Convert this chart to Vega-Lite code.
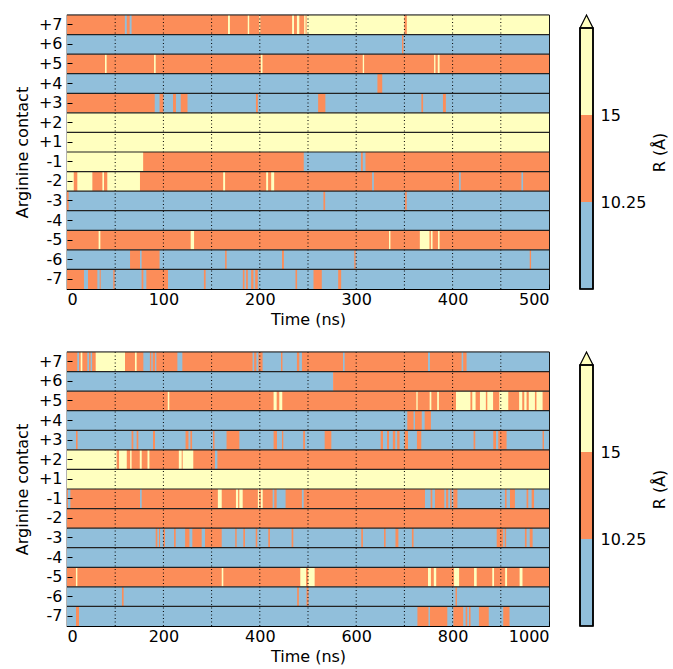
{
  "$schema": "https://vega.github.io/schema/vega-lite/v6.json",
  "padding": {"left": 13, "top": 12, "right": 0, "bottom": 0},
  "background": "white",
  "config": {
    "font": "DejaVu Sans",
    "view": {"stroke": "black", "strokeWidth": 1.2},
    "axis": {"labelFontSize": 16, "titleFontSize": 16, "titleFontWeight": "normal", "labelColor": "black", "titleColor": "black", "tickColor": "black", "domain": false, "grid": false}
  },
  "datasets": {
    "rows": [{"r":"+7"},{"r":"+6"},{"r":"+5"},{"r":"+4"},{"r":"+3"},{"r":"+2"},{"r":"+1"},{"r":"-1"},{"r":"-2"},{"r":"-3"},{"r":"-4"},{"r":"-5"},{"r":"-6"},{"r":"-7"}],
    "gridT": [{"t":50},{"t":100},{"t":150},{"t":200},{"t":250},{"t":300},{"t":350},{"t":400},{"t":450}],
    "gridB": [{"t":100},{"t":200},{"t":300},{"t":400},{"t":500},{"t":600},{"t":700},{"t":800},{"t":900}],
    "cb": [{"lo":5.5,"hi":10.25,"c":"b"},{"lo":10.25,"hi":15,"c":"o"},{"lo":15,"hi":19.75,"c":"y"}],
    "tri": [{"x":0,"y":19.75},{"x":0.5,"y":20.46},{"x":1,"y":19.75}],
    "top": [
      {"r":"+7","s":0,"e":500,"c":"o"},{"r":"+7","s":60,"e":62,"c":"b"},{"r":"+7","s":65,"e":67,"c":"b"},{"r":"+7","s":167,"e":169,"c":"y"},{"r":"+7","s":187.5,"e":189,"c":"y"},{"r":"+7","s":199.5,"e":200.5,"c":"y"},{"r":"+7","s":233.5,"e":235.5,"c":"y"},{"r":"+7","s":238.5,"e":241,"c":"y"},{"r":"+7","s":246,"e":247.5,"c":"y"},{"r":"+7","s":248.5,"e":350,"c":"y"},{"r":"+7","s":352.5,"e":500,"c":"y"},
      {"r":"+6","s":0,"e":500,"c":"b"},{"r":"+6","s":347.5,"e":349,"c":"o"},
      {"r":"+5","s":0,"e":500,"c":"o"},{"r":"+5","s":39.4,"e":41.1,"c":"y"},{"r":"+5","s":90.3,"e":92,"c":"y"},{"r":"+5","s":201,"e":202.8,"c":"y"},{"r":"+5","s":306.8,"e":308.2,"c":"y"},{"r":"+5","s":380.8,"e":382.2,"c":"y"},{"r":"+5","s":384.6,"e":386.5,"c":"y"},
      {"r":"+4","s":0,"e":500,"c":"b"},{"r":"+4","s":322,"e":327,"c":"o"},
      {"r":"+3","s":0,"e":500,"c":"b"},{"r":"+3","s":0,"e":91,"c":"o"},{"r":"+3","s":96,"e":100,"c":"o"},{"r":"+3","s":110,"e":113,"c":"o"},{"r":"+3","s":118,"e":125,"c":"o"},{"r":"+3","s":196,"e":198,"c":"o"},{"r":"+3","s":260.5,"e":268,"c":"o"},{"r":"+3","s":367.6,"e":369.4,"c":"o"},{"r":"+3","s":390,"e":393,"c":"o"},
      {"r":"+2","s":0,"e":500,"c":"y"},
      {"r":"+1","s":0,"e":500,"c":"y"},
      {"r":"-1","s":0,"e":500,"c":"o"},{"r":"-1","s":0,"e":79,"c":"y"},{"r":"-1","s":245.6,"e":305,"c":"b"},{"r":"-1","s":306.8,"e":309.6,"c":"b"},
      {"r":"-2","s":0,"e":500,"c":"o"},{"r":"-2","s":0,"e":7,"c":"y"},{"r":"-2","s":10.7,"e":26.3,"c":"y"},{"r":"-2","s":36.7,"e":38.4,"c":"y"},{"r":"-2","s":41.8,"e":75.7,"c":"y"},{"r":"-2","s":162,"e":164,"c":"y"},{"r":"-2","s":206.6,"e":208.6,"c":"y"},{"r":"-2","s":211.8,"e":214.9,"c":"y"},{"r":"-2","s":316.5,"e":318.3,"c":"b"},{"r":"-2","s":406.7,"e":408.4,"c":"b"},{"r":"-2","s":471.4,"e":473.1,"c":"b"},
      {"r":"-3","s":0,"e":500,"c":"b"},{"r":"-3","s":0,"e":1.7,"c":"o"},{"r":"-3","s":266,"e":267.8,"c":"o"},{"r":"-3","s":350.7,"e":352.4,"c":"o"},
      {"r":"-4","s":0,"e":500,"c":"b"},
      {"r":"-5","s":0,"e":500,"c":"o"},{"r":"-5","s":32.8,"e":34.6,"c":"y"},{"r":"-5","s":128.3,"e":131.8,"c":"y"},{"r":"-5","s":334,"e":335.5,"c":"y"},{"r":"-5","s":366,"e":376,"c":"y"},{"r":"-5","s":377.5,"e":379.2,"c":"y"},{"r":"-5","s":384.8,"e":386.5,"c":"y"},
      {"r":"-6","s":0,"e":500,"c":"b"},{"r":"-6","s":65.4,"e":75.7,"c":"o"},{"r":"-6","s":77.4,"e":96,"c":"o"},{"r":"-6","s":164,"e":165.6,"c":"o"},{"r":"-6","s":223,"e":225,"c":"o"},{"r":"-6","s":298,"e":299.4,"c":"o"},{"r":"-6","s":480,"e":481.4,"c":"o"},
      {"r":"-7","s":0,"e":500,"c":"b"},{"r":"-7","s":0,"e":17.6,"c":"o"},{"r":"-7","s":21.8,"e":31.5,"c":"o"},{"r":"-7","s":33.9,"e":35,"c":"o"},{"r":"-7","s":48,"e":49.5,"c":"o"},{"r":"-7","s":77.4,"e":79.2,"c":"o"},{"r":"-7","s":82.3,"e":104.8,"c":"o"},{"r":"-7","s":142,"e":143.8,"c":"o"},{"r":"-7","s":182.4,"e":184.1,"c":"o"},{"r":"-7","s":185.8,"e":187.6,"c":"o"},{"r":"-7","s":191,"e":193.4,"c":"o"},{"r":"-7","s":195.2,"e":197.9,"c":"o"},{"r":"-7","s":237,"e":238.7,"c":"o"},{"r":"-7","s":255.7,"e":264.3,"c":"o"},{"r":"-7","s":281.3,"e":284.4,"c":"o"}
    ],
    "bot": [
      {"r":"+7","s":0,"e":1000,"c":"o"},{"r":"+7","s":21.4,"e":24.9,"c":"b"},{"r":"+7","s":28.4,"e":31.8,"c":"y"},{"r":"+7","s":42.2,"e":45.6,"c":"b"},{"r":"+7","s":49,"e":52,"c":"b"},{"r":"+7","s":59.5,"e":120.3,"c":"y"},{"r":"+7","s":141,"e":144.5,"c":"y"},{"r":"+7","s":158.4,"e":172,"c":"b"},{"r":"+7","s":175,"e":177.7,"c":"b"},{"r":"+7","s":182.6,"e":185.3,"c":"b"},{"r":"+7","s":229,"e":239.3,"c":"b"},{"r":"+7","s":385,"e":388.3,"c":"b"},{"r":"+7","s":393,"e":397,"c":"b"},{"r":"+7","s":405.8,"e":444,"c":"b"},{"r":"+7","s":447,"e":477,"c":"b"},{"r":"+7","s":482,"e":487.4,"c":"b"},{"r":"+7","s":572.6,"e":576,"c":"b"},{"r":"+7","s":749,"e":753,"c":"b"},{"r":"+7","s":818.7,"e":822,"c":"b"},{"r":"+7","s":829,"e":1000,"c":"b"},
      {"r":"+6","s":0,"e":552,"c":"b"},{"r":"+6","s":552,"e":1000,"c":"o"},
      {"r":"+5","s":0,"e":1000,"c":"o"},{"r":"+5","s":209,"e":212.3,"c":"y"},{"r":"+5","s":428.6,"e":435,"c":"y"},{"r":"+5","s":440.4,"e":446.6,"c":"y"},{"r":"+5","s":724.8,"e":727.5,"c":"y"},{"r":"+5","s":752.4,"e":755.9,"c":"y"},{"r":"+5","s":768,"e":771.6,"c":"y"},{"r":"+5","s":807,"e":837,"c":"y"},{"r":"+5","s":840.8,"e":847.7,"c":"y"},{"r":"+5","s":856.7,"e":869,"c":"y"},{"r":"+5","s":872,"e":884,"c":"y"},{"r":"+5","s":896.8,"e":915.5,"c":"y"},{"r":"+5","s":938,"e":944.5,"c":"y"},{"r":"+5","s":948.7,"e":953.5,"c":"y"},{"r":"+5","s":958,"e":970.8,"c":"y"},{"r":"+5","s":974,"e":986.7,"c":"y"},
      {"r":"+4","s":0,"e":1000,"c":"b"},{"r":"+4","s":706,"e":719,"c":"o"},{"r":"+4","s":722,"e":736,"c":"o"},{"r":"+4","s":742,"e":755,"c":"o"},
      {"r":"+3","s":0,"e":1000,"c":"b"},{"r":"+3","s":18.7,"e":22,"c":"o"},{"r":"+3","s":134,"e":137.6,"c":"o"},{"r":"+3","s":144.5,"e":148,"c":"o"},{"r":"+3","s":178.4,"e":182.6,"c":"o"},{"r":"+3","s":246,"e":252,"c":"o"},{"r":"+3","s":256,"e":259.5,"c":"o"},{"r":"+3","s":303,"e":306,"c":"o"},{"r":"+3","s":331,"e":357.5,"c":"o"},{"r":"+3","s":428.6,"e":435.6,"c":"o"},{"r":"+3","s":445.9,"e":448.7,"c":"o"},{"r":"+3","s":490,"e":493.7,"c":"o"},{"r":"+3","s":534.6,"e":548.4,"c":"o"},{"r":"+3","s":650.8,"e":655.6,"c":"o"},{"r":"+3","s":664,"e":668,"c":"o"},{"r":"+3","s":676,"e":681,"c":"o"},{"r":"+3","s":685,"e":690,"c":"o"},{"r":"+3","s":700.6,"e":707.5,"c":"o"},{"r":"+3","s":726,"e":735,"c":"o"},{"r":"+3","s":843.5,"e":847,"c":"o"},{"r":"+3","s":884.4,"e":890,"c":"o"},{"r":"+3","s":894.8,"e":912,"c":"o"},{"r":"+3","s":986.7,"e":989.5,"c":"o"},
      {"r":"+2","s":0,"e":1000,"c":"o"},{"r":"+2","s":0,"e":103,"c":"y"},{"r":"+2","s":108,"e":124,"c":"y"},{"r":"+2","s":131,"e":134,"c":"y"},{"r":"+2","s":151,"e":155,"c":"y"},{"r":"+2","s":167,"e":171,"c":"y"},{"r":"+2","s":232,"e":238,"c":"y"},{"r":"+2","s":240,"e":262,"c":"y"},{"r":"+2","s":307,"e":312,"c":"b"},
      {"r":"+1","s":0,"e":1000,"c":"y"},
      {"r":"-1","s":0,"e":1000,"c":"o"},{"r":"-1","s":2,"e":7,"c":"b"},{"r":"-1","s":151.5,"e":155,"c":"b"},{"r":"-1","s":313,"e":321,"c":"y"},{"r":"-1","s":350.5,"e":355,"c":"y"},{"r":"-1","s":357.5,"e":364.5,"c":"y"},{"r":"-1","s":396,"e":399,"c":"y"},{"r":"-1","s":402,"e":406,"c":"y"},{"r":"-1","s":426.6,"e":430,"c":"b"},{"r":"-1","s":435,"e":453.5,"c":"b"},{"r":"-1","s":487.4,"e":491,"c":"b"},{"r":"-1","s":742.7,"e":754.4,"c":"b"},{"r":"-1","s":757.9,"e":763.4,"c":"b"},{"r":"-1","s":782.8,"e":786.5,"c":"b"},{"r":"-1","s":791,"e":795,"c":"b"},{"r":"-1","s":798,"e":801.4,"c":"b"},{"r":"-1","s":810,"e":908.6,"c":"b"},{"r":"-1","s":912,"e":919,"c":"b"},{"r":"-1","s":929.3,"e":953.5,"c":"b"},{"r":"-1","s":957,"e":964,"c":"b"},{"r":"-1","s":969,"e":1000,"c":"b"},
      {"r":"-2","s":0,"e":1000,"c":"o"},
      {"r":"-3","s":0,"e":1000,"c":"b"},{"r":"-3","s":184,"e":187.4,"c":"o"},{"r":"-3","s":190.9,"e":193,"c":"o"},{"r":"-3","s":200,"e":203.3,"c":"o"},{"r":"-3","s":222,"e":225.5,"c":"o"},{"r":"-3","s":245,"e":254,"c":"o"},{"r":"-3","s":260,"e":279.4,"c":"o"},{"r":"-3","s":286.3,"e":321,"c":"o"},{"r":"-3","s":349,"e":352,"c":"o"},{"r":"-3","s":365.8,"e":369.3,"c":"o"},{"r":"-3","s":391.5,"e":394.8,"c":"o"},{"r":"-3","s":417.6,"e":421,"c":"o"},{"r":"-3","s":466,"e":469.5,"c":"o"},{"r":"-3","s":610.5,"e":614,"c":"o"},{"r":"-3","s":657.7,"e":661,"c":"o"},{"r":"-3","s":681.5,"e":687.5,"c":"o"},{"r":"-3","s":715.5,"e":719,"c":"o"},{"r":"-3","s":891.5,"e":905,"c":"o"},{"r":"-3","s":908,"e":911,"c":"o"},{"r":"-3","s":950,"e":953.5,"c":"o"},{"r":"-3","s":960,"e":966,"c":"o"},
      {"r":"-4","s":0,"e":1000,"c":"b"},
      {"r":"-5","s":0,"e":1000,"c":"o"},{"r":"-5","s":18.5,"e":21.5,"c":"y"},{"r":"-5","s":321,"e":324.3,"c":"y"},{"r":"-5","s":484,"e":496,"c":"y"},{"r":"-5","s":500.5,"e":513.8,"c":"y"},{"r":"-5","s":749,"e":755,"c":"y"},{"r":"-5","s":761,"e":766,"c":"y"},{"r":"-5","s":803,"e":813.5,"c":"y"},{"r":"-5","s":844.5,"e":850,"c":"y"},{"r":"-5","s":882.3,"e":886,"c":"y"},{"r":"-5","s":909,"e":913,"c":"y"},{"r":"-5","s":939,"e":945,"c":"y"},
      {"r":"-6","s":0,"e":1000,"c":"b"},{"r":"-6","s":114,"e":117.5,"c":"o"},{"r":"-6","s":477.5,"e":481,"c":"o"},{"r":"-6","s":497,"e":501,"c":"o"},{"r":"-6","s":806,"e":809,"c":"o"},
      {"r":"-7","s":0,"e":1000,"c":"b"},{"r":"-7","s":18.7,"e":24.9,"c":"o"},{"r":"-7","s":727,"e":750,"c":"o"},{"r":"-7","s":753,"e":789,"c":"o"},{"r":"-7","s":801.5,"e":822,"c":"o"},{"r":"-7","s":827,"e":830.4,"c":"o"},{"r":"-7","s":834,"e":837.3,"c":"o"},{"r":"-7","s":854.6,"e":875,"c":"o"},{"r":"-7","s":905,"e":918,"c":"o"}
    ]
  },
  "vconcat": [
    {
      "hconcat": [
        {
          "width": 482, "height": 274,
          "layer": [
            {"data": {"name": "top"}, "mark": {"type": "rect", "strokeWidth": 0},
             "encoding": {
               "x": {"field": "s", "type": "quantitative", "scale": {"domain": [0, 500], "nice": false, "zero": false}, "axis": {"values": [0,100,200,300,400,500], "format": "d", "title": "Time (ns)", "tickSize": -5, "labelPadding": 7, "titlePadding": 4}},
               "x2": {"field": "e"},
               "y": {"field": "r", "type": "nominal", "sort": ["+7","+6","+5","+4","+3","+2","+1","-1","-2","-3","-4","-5","-6","-7"], "scale": {"paddingInner": 0, "paddingOuter": 0}, "axis": {"title": "Arginine contact", "tickSize": -5, "labelPadding": 10, "titlePadding": 8}},
               "color": {"field": "c", "type": "nominal", "scale": {"domain": ["b","o","y"], "range": ["#91bfdb","#fc8d59","#ffffbf"]}, "legend": null}
             }},
            {"data": {"name": "gridT"}, "mark": {"type": "rule", "color": "black", "strokeDash": [1, 2.5], "strokeWidth": 1},
             "encoding": {"x": {"field": "t", "type": "quantitative"}}},
            {"data": {"name": "rows"}, "mark": {"type": "rule", "color": "#222222", "strokeWidth": 1.2},
             "encoding": {"y": {"field": "r", "type": "nominal", "sort": ["+7","+6","+5","+4","+3","+2","+1","-1","-2","-3","-4","-5","-6","-7"], "bandPosition": 0}}}
          ]
        },
        {
          "width": 13, "height": 274, "view": {"stroke": null},
          "layer": [
            {"data": {"name": "cb"}, "mark": {"type": "rect", "strokeWidth": 0},
             "encoding": {
               "x": {"datum": 0, "type": "quantitative", "scale": {"domain": [0, 1], "nice": false}, "axis": null},
               "x2": {"datum": 1},
               "y": {"field": "lo", "type": "quantitative", "scale": {"domain": [5.5, 20.46], "nice": false, "zero": false}, "axis": {"orient": "right", "values": [10.25, 15], "labelExpr": "datum.value == 15 ? '15' : '10.25'", "ticks": false, "labelPadding": 7, "title": "R (Å)", "titleAngle": 270, "titlePadding": 22}},
               "y2": {"field": "hi"},
               "color": {"field": "c", "type": "nominal", "scale": {"domain": ["b","o","y"], "range": ["#91bfdb","#fc8d59","#ffffbf"]}, "legend": null}
             }},
            {"data": {"name": "tri"}, "mark": {"type": "area", "fill": "#ffffbf", "stroke": "black", "strokeWidth": 1.2},
             "encoding": {"x": {"field": "x", "type": "quantitative"}, "y": {"field": "y", "type": "quantitative"}, "y2": {"datum": 19.75}}},
            {"data": {"name": "cb"}, "mark": {"type": "rect", "fill": null, "fillOpacity": 0, "stroke": "black", "strokeWidth": 1.2},
             "encoding": {"x": {"datum": 0, "type": "quantitative"}, "x2": {"datum": 1}, "y": {"datum": 5.5, "type": "quantitative"}, "y2": {"datum": 19.75}}}
          ]
        }
      ],
      "spacing": 26
    },
    {
      "hconcat": [
        {
          "width": 482, "height": 274,
          "layer": [
            {"data": {"name": "bot"}, "mark": {"type": "rect", "strokeWidth": 0},
             "encoding": {
               "x": {"field": "s", "type": "quantitative", "scale": {"domain": [0, 1000], "nice": false, "zero": false}, "axis": {"values": [0,200,400,600,800,1000], "format": "d", "title": "Time (ns)", "tickSize": -5, "labelPadding": 7, "titlePadding": 4}},
               "x2": {"field": "e"},
               "y": {"field": "r", "type": "nominal", "sort": ["+7","+6","+5","+4","+3","+2","+1","-1","-2","-3","-4","-5","-6","-7"], "scale": {"paddingInner": 0, "paddingOuter": 0}, "axis": {"title": "Arginine contact", "tickSize": -5, "labelPadding": 10, "titlePadding": 8}},
               "color": {"field": "c", "type": "nominal", "scale": {"domain": ["b","o","y"], "range": ["#91bfdb","#fc8d59","#ffffbf"]}, "legend": null}
             }},
            {"data": {"name": "gridB"}, "mark": {"type": "rule", "color": "black", "strokeDash": [1, 2.5], "strokeWidth": 1},
             "encoding": {"x": {"field": "t", "type": "quantitative"}}},
            {"data": {"name": "rows"}, "mark": {"type": "rule", "color": "#222222", "strokeWidth": 1.2},
             "encoding": {"y": {"field": "r", "type": "nominal", "sort": ["+7","+6","+5","+4","+3","+2","+1","-1","-2","-3","-4","-5","-6","-7"], "bandPosition": 0}}}
          ]
        },
        {
          "width": 13, "height": 274, "view": {"stroke": null},
          "layer": [
            {"data": {"name": "cb"}, "mark": {"type": "rect", "strokeWidth": 0},
             "encoding": {
               "x": {"datum": 0, "type": "quantitative", "scale": {"domain": [0, 1], "nice": false}, "axis": null},
               "x2": {"datum": 1},
               "y": {"field": "lo", "type": "quantitative", "scale": {"domain": [5.5, 20.46], "nice": false, "zero": false}, "axis": {"orient": "right", "values": [10.25, 15], "labelExpr": "datum.value == 15 ? '15' : '10.25'", "ticks": false, "labelPadding": 7, "title": "R (Å)", "titleAngle": 270, "titlePadding": 22}},
               "y2": {"field": "hi"},
               "color": {"field": "c", "type": "nominal", "scale": {"domain": ["b","o","y"], "range": ["#91bfdb","#fc8d59","#ffffbf"]}, "legend": null}
             }},
            {"data": {"name": "tri"}, "mark": {"type": "area", "fill": "#ffffbf", "stroke": "black", "strokeWidth": 1.2},
             "encoding": {"x": {"field": "x", "type": "quantitative"}, "y": {"field": "y", "type": "quantitative"}, "y2": {"datum": 19.75}}},
            {"data": {"name": "cb"}, "mark": {"type": "rect", "fill": null, "fillOpacity": 0, "stroke": "black", "strokeWidth": 1.2},
             "encoding": {"x": {"datum": 0, "type": "quantitative"}, "x2": {"datum": 1}, "y": {"datum": 5.5, "type": "quantitative"}, "y2": {"datum": 19.75}}}
          ]
        }
      ],
      "spacing": 26
    }
  ],
  "spacing": 21
}
